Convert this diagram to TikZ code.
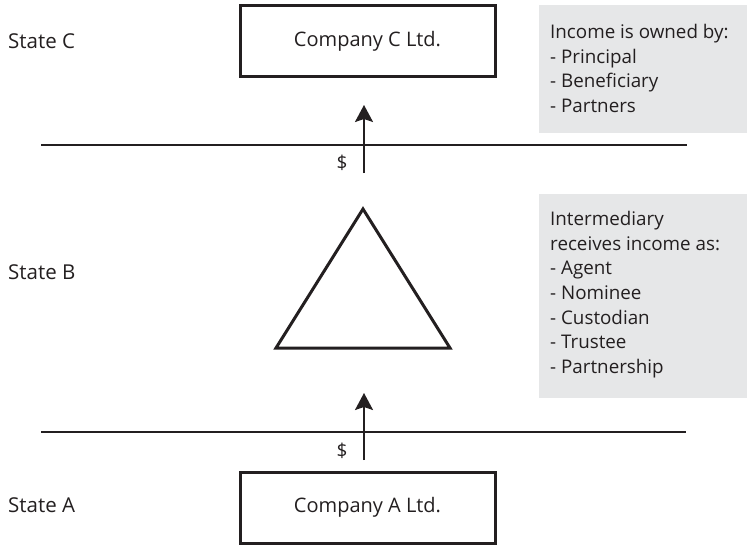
\documentclass[tikz,border=0pt]{standalone}
\usepackage{fontspec}
\setmainfont{Open Sans}
\usetikzlibrary{arrows.meta}
\definecolor{ink}{RGB}{35,31,32}
\definecolor{panel}{RGB}{230,231,232}
\begin{document}
\begin{tikzpicture}[x=1pt,y=-1pt,
  every node/.style={text=ink},
  lbl/.style={font=\fontsize{20.5}{24}\selectfont, inner sep=0pt},
  small/.style={font=\fontsize{19}{22}\selectfont, inner sep=0pt},
  company/.style={draw=ink, line width=3pt, minimum width=255pt, minimum height=71pt, font=\fontsize{20}{24}\selectfont, inner sep=0pt},
  panelbox/.style={fill=panel, inner sep=0pt, anchor=north west},
  listtxt/.style={font=\fontsize{18.8}{24.7}\selectfont, align=left, inner sep=0pt, anchor=north west},
  border/.style={draw=ink, line width=1.5pt},
  flow/.style={draw=ink, line width=2pt, -{Stealth[length=17pt, width=18pt, inset=3pt]}},
  tri/.style={draw=ink, line width=3pt, line join=miter}]
\useasboundingbox (0,0) rectangle (747,546);
% panels
\node[panelbox, minimum width=209pt, minimum height=128pt] (g1) at (538.5,5) {};
\node[panelbox, minimum width=209pt, minimum height=204pt] (g2) at (538.5,194) {};
\node[listtxt] (t1) at (550,24) {Income is owned by:\\- Principal\\- Beneficiary\\- Partners};
\node[listtxt] (t2) at (550,211) {Intermediary\\receives income as:\\- Agent\\- Nominee\\- Custodian\\- Trustee\\- Partnership};
% state labels
\node[lbl, anchor=base west] (sC) at (8,48) {State C};
\node[lbl, anchor=base west] (sB) at (8,279) {State B};
\node[lbl, anchor=base west] (sA) at (8,512) {State A};
% companies
\node[company] (cC) at (367.5,41) {Company C Ltd.};
\node[company] (cA) at (367.5,507.75) {Company A Ltd.};
% borders
\coordinate (b1l) at (41,145);
\coordinate (b1r) at (687,145);
\coordinate (b2l) at (41,432);
\coordinate (b2r) at (686,432);
\draw[border] (b1l) -- (b1r);
\draw[border] (b2l) -- (b2r);
% triangle (intermediary)
\coordinate (ta) at (363,209);
\coordinate (tl) at (276,348);
\coordinate (tr) at (450,348);
\draw[tri] (ta) -- (tl) -- (tr) -- cycle;
% flows
\coordinate (f1s) at (364,173);
\coordinate (f1e) at (364,105);
\coordinate (f2s) at (364,460);
\coordinate (f2e) at (364,393);
\draw[flow] (f1s) -- (f1e);
\draw[flow] (f2s) -- (f2e);
\node[small] (d1) at (342,163) {\$};
\node[small] (d2) at (342,451) {\$};
\end{tikzpicture}
\end{document}
